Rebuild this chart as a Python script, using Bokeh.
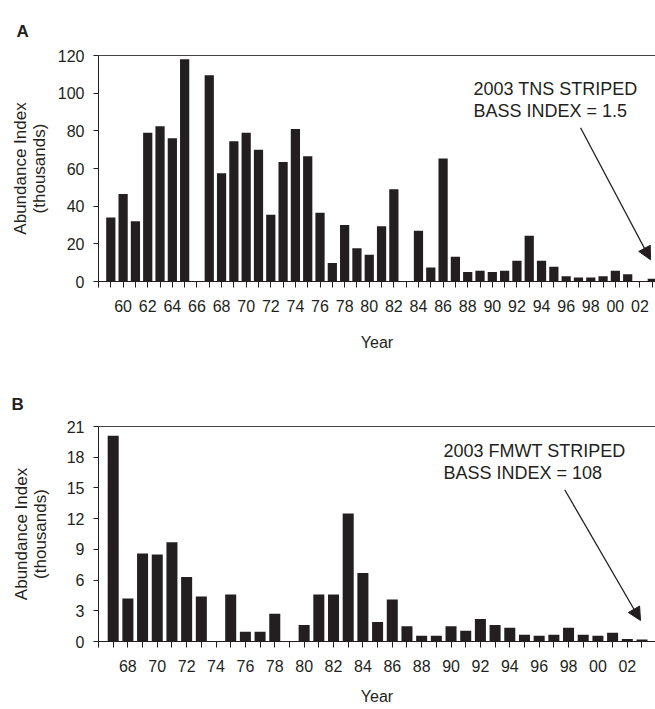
from bokeh.plotting import figure
from bokeh.models import (FixedTicker, Label, Arrow, NormalHead, LinearAxis,
                          Range1d, ColumnDataSource, Title)
from bokeh.layouts import column
from bokeh.embed import file_html
from bokeh.resources import INLINE

# ---------------- data ----------------
years_a = list(range(1959, 2004))
tns_index = [34, 46.5, 32, 79, 82.5, 76, 118, None, 109.5, 57.5,
             74.5, 79, 70, 35.5, 63.5, 81, 66.5, 36.5, 9.8, 30,
             17.7, 14.2, 29.4, 49, None, 27, 7.4, 65.3, 13.1, 5.1,
             5.7, 5.1, 5.7, 11, 24.3, 11, 7.8, 2.8, 2.1, 2.1,
             2.8, 5.7, 3.9, None, 1.5]

years_b = list(range(1967, 2004))
fmwt_index = [20.1, 4.2, 8.6, 8.5, 9.7, 6.3, 4.4, None, 4.6, 0.95,
              0.95, 2.7, None, 1.6, 4.6, 4.6, 12.5, 6.7, 1.9, 4.1,
              1.5, 0.55, 0.55, 1.5, 1.05, 2.2, 1.6, 1.35, 0.65, 0.55,
              0.65, 1.35, 0.65, 0.55, 0.85, 0.25, 0.2]

y_ticks_a = [0, 20, 40, 60, 80, 100, 120]
y_ticks_b = [0, 3, 6, 9, 12, 15, 18, 21]

note_a = ["2003 TNS STRIPED", "BASS INDEX = 1.5"]
note_b = ["2003 FMWT STRIPED", "BASS INDEX = 108"]

BAR = "#231f20"
FONT = "Liberation Sans"
WIDTH = 655


def panel(years, vals, x_start, x_end, y_max, y_ticks, height, b_left, b_top,
          frame_h, letter, letter_offset, letter_standoff, notes, note_pos,
          arrow, title_standoff, year_standoff):
    p = figure(width=WIDTH, height=height, output_backend="svg",
               toolbar_location=None,
               x_range=Range1d(x_start, x_end), y_range=Range1d(0, y_max),
               min_border_left=b_left, min_border_right=0,
               min_border_top=b_top,
               min_border_bottom=height - b_top - frame_h)
    p.outline_line_color = None
    p.xgrid.visible = False
    p.ygrid.visible = False

    xs = [y for y, v in zip(years, vals) if v is not None]
    tops = [v for v in vals if v is not None]
    src = ColumnDataSource(dict(x=xs, top=tops))
    p.vbar(x="x", top="top", width=0.75, bottom=0, source=src,
           fill_color=BAR, line_color=None)

    # x axis
    tick_years = list(range(int(x_start), 2004))
    xa = p.xaxis[0]
    xa.ticker = FixedTicker(ticks=tick_years)
    xa.major_label_overrides = {t: (f"{t % 100:02d}" if t % 2 == 0 and t > x_start + 1 else "")
                                for t in tick_years}
    xa.major_tick_out = 6
    xa.major_tick_in = 0
    xa.minor_tick_line_color = None
    xa.axis_line_color = BAR
    xa.major_tick_line_color = BAR
    xa.major_label_text_font = FONT
    xa.major_label_text_font_size = "16px"
    xa.major_label_text_color = BAR
    xa.major_label_standoff = 12
    xa.axis_label = "Year"
    xa.axis_label_text_font = FONT
    xa.axis_label_text_font_style = "normal"
    xa.axis_label_text_font_size = "16px"
    xa.axis_label_text_color = BAR
    xa.axis_label_standoff = year_standoff

    ya = p.yaxis[0]
    ya.ticker = FixedTicker(ticks=y_ticks)
    ya.major_tick_out = 5
    ya.major_tick_in = 0
    ya.minor_tick_line_color = None
    ya.axis_line_color = BAR
    ya.major_tick_line_color = BAR
    ya.major_label_text_font = FONT
    ya.major_label_text_font_size = "16px"
    ya.major_label_text_color = BAR
    ya.major_label_standoff = 9
    ya.axis_label = "Abundance Index\n(thousands)"
    ya.axis_label_text_font = FONT
    ya.axis_label_text_font_style = "normal"
    ya.axis_label_text_font_size = "17px"
    ya.axis_label_text_color = BAR
    ya.axis_label_text_line_height = 1.0
    ya.axis_label_standoff = title_standoff

    top_axis = LinearAxis(ticker=FixedTicker(ticks=[]),
                          major_label_text_font_size="0px",
                          major_label_standoff=0,
                          major_tick_out=0, major_tick_in=0,
                          major_tick_line_color=None,
                          minor_tick_line_color=None,
                          axis_line_color="#444444")
    p.add_layout(top_axis, "above")

    p.add_layout(Title(text=letter, align="left", offset=letter_offset,
                       text_font=FONT, text_font_style="bold",
                       text_font_size="17px", text_color=BAR,
                       standoff=letter_standoff), "above")

    for i, t in enumerate(notes):
        p.add_layout(Label(x=note_pos[0], y=note_pos[1][i], x_units="screen",
                           y_units="screen", text=t, text_font=FONT,
                           text_font_size="18px", text_color=BAR,
                           text_baseline="alphabetic"))
    p.add_layout(Arrow(x_start=arrow[0], y_start=arrow[1], x_end=arrow[2],
                       y_end=arrow[3], line_color=BAR, line_width=1.3,
                       end=NormalHead(size=13, fill_color=BAR, line_color=BAR)))
    return p


pa = panel(years_a, tns_index, 1958, 2003.26, 120, y_ticks_a,
           height=360, b_left=92, b_top=55, frame_h=226,
           letter="A", letter_offset=-82, letter_standoff=29,
           notes=note_a, note_pos=(375, [193, 171]),
           arrow=(1997.17, 81.6, 2002.86, 11.5),
           title_standoff=6, year_standoff=19)

pb = panel(years_b, fmwt_index, 1966, 2003.92, 21, y_ticks_b,
           height=349, b_left=98, b_top=66, frame_h=215,
           letter="B", letter_offset=-87, letter_standoff=26,
           notes=note_b, note_pos=(345, [191, 169]),
           arrow=(1997.74, 14.82, 2002.90, 2.05),
           title_standoff=14, year_standoff=13)

layout = column(pa, pb, spacing=0)
open("out.html", "w").write(file_html(layout, INLINE))
